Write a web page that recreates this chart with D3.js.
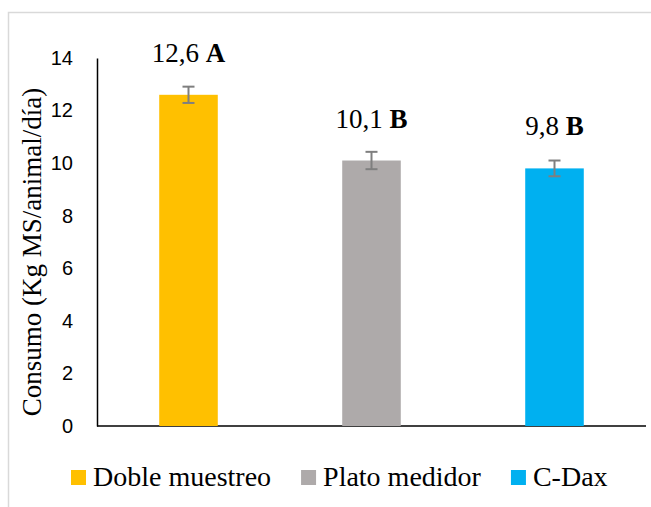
<!DOCTYPE html>
<html>
<head>
<meta charset="utf-8">
<script src="https://cdn.jsdelivr.net/npm/d3@7"></script>
<style>
  body { margin: 0; background: #fff; }
  svg { display: block; }
</style>
</head>
<body>
<div id="chart"></div>
<script>
// data
const categories = ["Doble muestreo", "Plato medidor", "C-Dax"];
const values = [12.6, 10.1, 9.8];
const errors = [0.31, 0.33, 0.3];
const letters = ["A", "B", "B"];
const labelNums = ["12,6", "10,1", "9,8"];
const colors = ["#FFC000", "#AEAAAA", "#00B0F0"];
const yTicks = [0, 2, 4, 6, 8, 10, 12, 14];

const W = 651, H = 507;
const margin = { top: 58, right: 5, bottom: 81, left: 97 };
const width = W - margin.left - margin.right;
const height = H - margin.top - margin.bottom;

const svg = d3.select("#chart").append("svg")
    .attr("width", W)
    .attr("height", H);

// outer frame (extends past the picture on right and bottom)
svg.append("rect")
    .attr("x", 8.5).attr("y", 12.5)
    .attr("width", 700).attr("height", 600)
    .attr("fill", "none")
    .attr("stroke", "#d9d9d9")
    .attr("stroke-width", 1.5);

const g = svg.append("g")
    .attr("transform", "translate(" + margin.left + "," + margin.top + ")");

const xScale = d3.scaleBand()
    .domain(categories)
    .range([0, width])
    .paddingInner(0.68)
    .paddingOuter(0.34);

const yScale = d3.scaleLinear()
    .domain([0, 14])
    .range([height, 0]);

// y axis: line + labels, no tick marks
const yAxis = d3.axisLeft(yScale)
    .tickValues(yTicks)
    .tickSize(0)
    .tickPadding(24);

g.append("g")
    .attr("class", "y-axis")
    .call(yAxis)
    .call(s => s.select(".domain").attr("stroke", "#000").attr("stroke-width", 1.5))
    .call(s => s.selectAll("text")
        .attr("font-family", "'Liberation Sans', Arial, sans-serif")
        .attr("font-size", 20)
        .attr("fill", "#000"));

// x axis baseline
g.append("line")
    .attr("x1", 0).attr("x2", width)
    .attr("y1", yScale(0)).attr("y2", yScale(0))
    .attr("stroke", "#000")
    .attr("stroke-width", 1.5);

// bars
g.selectAll(".bar")
    .data(values)
    .enter().append("rect")
    .attr("class", "bar")
    .attr("x", (d, i) => xScale(categories[i]))
    .attr("y", d => yScale(d))
    .attr("width", xScale.bandwidth())
    .attr("height", d => yScale(0) - yScale(d))
    .attr("fill", (d, i) => colors[i]);

// error bars
const err = g.selectAll(".err")
    .data(values)
    .enter().append("g")
    .attr("class", "err")
    .attr("stroke", "#7f7f7f")
    .attr("stroke-width", 2);

const cx = i => xScale(categories[i]) + xScale.bandwidth() / 2;

err.append("line")
    .attr("x1", (d, i) => cx(i)).attr("x2", (d, i) => cx(i))
    .attr("y1", (d, i) => yScale(d + errors[i]))
    .attr("y2", (d, i) => yScale(d - errors[i]));
err.append("line")
    .attr("x1", (d, i) => cx(i) - 6).attr("x2", (d, i) => cx(i) + 6)
    .attr("y1", (d, i) => yScale(d + errors[i]))
    .attr("y2", (d, i) => yScale(d + errors[i]));
err.append("line")
    .attr("x1", (d, i) => cx(i) - 6).attr("x2", (d, i) => cx(i) + 6)
    .attr("y1", (d, i) => yScale(d - errors[i]))
    .attr("y2", (d, i) => yScale(d - errors[i]));

// data labels
const lbl = g.selectAll(".lbl")
    .data(values)
    .enter().append("text")
    .attr("class", "lbl")
    .attr("x", (d, i) => cx(i))
    .attr("y", d => yScale(d) - 33)
    .attr("text-anchor", "middle")
    .attr("font-family", "'Liberation Serif', 'Times New Roman', serif")
    .attr("font-size", 27)
    .attr("fill", "#000");
lbl.append("tspan").text((d, i) => labelNums[i] + " ");
lbl.append("tspan").attr("font-weight", "bold").text((d, i) => letters[i]);

// y-axis title
svg.append("text")
    .attr("transform", "translate(41," + (margin.top + height / 2 + 10) + ") rotate(-90)")
    .attr("text-anchor", "middle")
    .attr("font-family", "'Liberation Serif', 'Times New Roman', serif")
    .attr("font-size", 27)
    .attr("fill", "#000")
    .text("Consumo (Kg MS/animal/día)");

// legend
const legend = svg.append("g").attr("class", "legend");
let lx = 71;
categories.forEach((c, i) => {
    legend.append("rect")
        .attr("x", lx).attr("y", 470)
        .attr("width", 15).attr("height", 15)
        .attr("fill", colors[i]);
    const t = legend.append("text")
        .attr("x", lx + 22).attr("y", 486)
        .attr("font-family", "'Liberation Serif', 'Times New Roman', serif")
        .attr("font-size", 28)
        .attr("fill", "#000")
        .text(c);
    lx += 22 + t.node().getComputedTextLength() + 30;
});
</script>
</body>
</html>
